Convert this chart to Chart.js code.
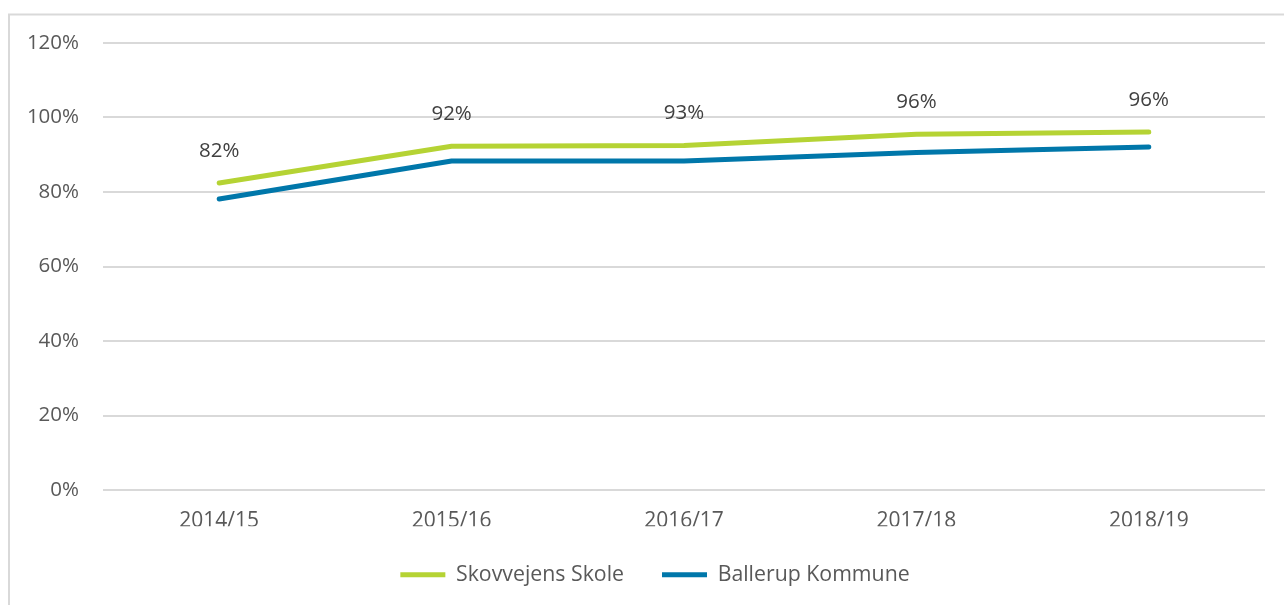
<!DOCTYPE html>
<html><head><meta charset="utf-8">
<script src="https://cdn.jsdelivr.net/npm/chart.js@4/dist/chart.umd.min.js"></script>
<style>html,body{margin:0;padding:0;background:#fff}#wrap{position:relative;width:1284px;height:605px}</style>
</head><body><div id="wrap"><canvas id="c" width="1284" height="605"></canvas></div>
<script>
const categories = ['2014/15', '2015/16', '2016/17', '2017/18', '2018/19'];
const skovvejensValues = [82.4, 92.3, 92.5, 95.5, 96.1];
const skovvejensLabels = ['82%', '92%', '93%', '96%', '96%'];
const ballerupValues = [78.1, 88.3, 88.3, 90.6, 92.1];
const seriesNames = ['Skovvejens Skole', 'Ballerup Kommune'];
const yMin = 0, yMax = 120, yStep = 20;

const NUMFONT = '"Open Sans", sans-serif';
const TXTFONT = '"Open Sans", sans-serif';

const framePlugin = {
  id: 'frame',
  beforeDraw(chart) {
    const ctx = chart.ctx;
    ctx.save();
    ctx.fillStyle = '#fff';
    ctx.fillRect(0, 0, chart.width, chart.height);
    ctx.strokeStyle = '#d9d9d9';
    ctx.lineWidth = 2;
    ctx.strokeRect(9, 14.5, 2000, 2000);
    ctx.restore();
  }
};

const legendShift = {
  id: 'legendShift',
  afterLayout(chart) {
    const lg = chart.legend;
    if (lg) { lg.left += 22.5; lg.right += 22.5; }
  }
};

const dataLabels = {
  id: 'dataLabels',
  afterDatasetsDraw(chart) {
    const ctx = chart.ctx;
    const meta = chart.getDatasetMeta(0);
    ctx.save();
    ctx.font = '20.5px ' + NUMFONT;
    ctx.fillStyle = '#404040';
    ctx.textAlign = 'center';
    ctx.textBaseline = 'middle';
    meta.data.forEach((pt, i) => {
      ctx.fillText(skovvejensLabels[i], pt.x, pt.y - 32);
    });
    ctx.restore();
  }
};

new Chart(document.getElementById('c'), {
  type: 'line',
  data: {
    labels: categories,
    datasets: [
      { label: seriesNames[0], data: skovvejensValues, borderColor: '#b5d334', backgroundColor: '#b5d334',
        borderWidth: 5, pointRadius: 0, tension: 0, borderCapStyle: 'round', borderJoinStyle: 'round' },
      { label: seriesNames[1], data: ballerupValues, borderColor: '#0077aa', backgroundColor: '#0077aa',
        borderWidth: 5, pointRadius: 0, tension: 0, borderCapStyle: 'round', borderJoinStyle: 'round' }
    ]
  },
  options: {
    responsive: false,
    animation: false,
    layout: { padding: { left: 0, top: 43, right: 19, bottom: 9.5 } },
    plugins: {
      tooltip: { enabled: false },
      legend: {
        position: 'bottom',
        labels: {
          usePointStyle: true, pointStyle: 'line', pointStyleWidth: 45,
          padding: 38, color: '#595959', font: { family: TXTFONT, size: 21.3 }
        }
      }
    },
    scales: {
      x: {
        offset: true,
        grid: { display: false, drawTicks: false },
        border: { display: false },
        ticks: { color: '#595959', font: { family: NUMFONT, size: 21 }, padding: 18 },
        afterFit(s) { s.height = 36.2; }
      },
      y: {
        min: yMin, max: yMax,
        grid: { color: '#d9d9d9', lineWidth: 2, drawTicks: false },
        border: { display: false },
        ticks: { stepSize: yStep, color: '#595959', font: { family: NUMFONT, size: 20.5 }, padding: 24,
          callback: v => v + '%' },
        afterFit(s) { s.width = 103; }
      }
    }
  },
  plugins: [framePlugin, legendShift, dataLabels]
});
</script></body></html>
